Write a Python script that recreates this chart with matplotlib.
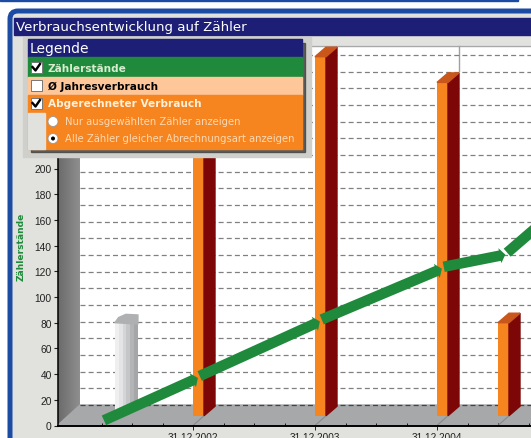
import numpy as np
import matplotlib
matplotlib.use("Agg")
import matplotlib.pyplot as plt
from matplotlib.patches import Rectangle, Polygon, FancyArrowPatch, FancyBboxPatch, Circle

# data
bar_years = [2002.0, 2003.0, 2004.0, 2004.5]
bar_values = [250, 287, 267, 80]
old_year = 2001.36
old_value = 80
line_years = [2001.27, 2002.04, 2003.04, 2004.04, 2004.56, 2004.85]
line_values = [4, 37, 81, 122, 133, 157]
y_ticks = [0, 20, 40, 60, 80, 100, 120, 140, 160, 180, 200]
x_ticks = [2002, 2003, 2004, 2005]
x_labels = ["31.12.2002", "31.12.2003", "31.12.2004", "31.12.2005"]

W, H = 531, 439
PX_YEAR = 122.0   # pixels per year
PX_VAL = 1.285    # pixels per unit
x0_px, y0_px = 193.0, 426.5

NAVY = "#1c1f75"
BLUE = "#1c4ba3"
GREEN = "#1f8a3c"
ORANGE = "#f6841f"
PEACH = "#fdc79a"
DARKRED = "#7d0706"
PANEL = "#e1e1dd"

plt.rcParams["font.family"] = "Liberation Sans"
fig = plt.figure(figsize=(W / 100, H / 100), dpi=100)

# frame / window
bg = fig.add_axes([0, 0, 1, 1], zorder=0)
bg.axis("off")
bg.add_patch(Rectangle((0, 0), W - 13, 2, color=BLUE))
bg.add_patch(FancyBboxPatch((10, 12), W + 40, H, boxstyle="round,pad=0,rounding_size=8", fc=PANEL, ec=BLUE, lw=3.6))
bg.add_patch(Rectangle((14, 19), W, 17, color=NAVY))
bg.text(15.5, 28, "Verbrauchsentwicklung auf Zähler", color="white", fontsize=9.65, family="DejaVu Sans", va="center")

# plot room
bg.add_patch(Rectangle((80, 47), W - 80, 359, color="white"))
bg.plot([80, W], [47, 47], color="#a8a8a8", lw=1)
bg.plot([459, 459], [47, 72], color="#a0a0a0", lw=1)
wall = bg.imshow(np.linspace(0.42, 0.56, 64).reshape(1, -1), cmap="gray", vmin=0, vmax=1,
                 extent=[58, 80, 426, 47], aspect="auto", zorder=1)
wall.set_clip_path(Polygon([(58, 426), (58, 67), (80, 47), (80, 406)], transform=bg.transData))
bg.add_patch(Polygon([(58, 426), (80, 406), (W, 406), (W, 426)], color="#a6a8a9", zorder=1))
bg.set_xlim(0, W)
bg.set_ylim(H, 0)

# chart axes
ax = fig.add_axes([0, 0, 1, 1], zorder=1)
ax.patch.set_alpha(0)
ax.set_yticks(y_ticks)
ax.set_xticks(x_ticks)
ax.set_xticklabels(x_labels)
ax.set_xticks(np.arange(2001.25, 2005, 0.25), minor=True)
# limits after the ticks, set_xticks would widen them
ax.set_xlim(2002 - x0_px / PX_YEAR, 2002 + (W - x0_px) / PX_YEAR)
ax.set_ylim(-(H - y0_px) / PX_VAL, y0_px / PX_VAL)
for s in ["top", "right"]:
    ax.spines[s].set_visible(False)
left_x = 2002 - (x0_px - 58) / PX_YEAR
ax.spines["left"].set_position(("data", left_x))
ax.spines["bottom"].set_position(("data", 0))
ax.spines["left"].set_bounds(0, 215)
ax.spines["bottom"].set_bounds(left_x, ax.get_xlim()[1])
ax.spines["left"].set_linewidth(1.1)
ax.spines["bottom"].set_linewidth(1.4)
ax.tick_params(axis="y", labelsize=7.4, length=3, width=0.8, pad=1.5, colors="#222222")
ax.tick_params(axis="x", labelsize=7.2, length=3, width=0.7, pad=2, colors="#222222")
ax.tick_params(axis="x", which="minor", length=2, width=0.6, direction="in")
fig.text(21 / W, 1 - 247 / H, "Zählerstände", rotation=90, color=GREEN, fontsize=6.6,
         fontweight="bold", ha="center", va="center", family="DejaVu Sans", zorder=3)

# depth offsets in data units
bar_w = 11 / PX_YEAR
dx = 11 / PX_YEAR
dy = 9.5 / PX_VAL
base = 7.6

# back grid, 21 dashed lines
grid_levels = (y0_px - 406) / PX_VAL + np.arange(22) * 16.67 / PX_VAL
back_x = 2002 - (x0_px - 80) / PX_YEAR
for i, g in enumerate(grid_levels):
    ax.plot([back_x, ax.get_xlim()[1]], [g, g], color="#444444" if i == 0 else "#808080",
            lw=0.9, dashes=(4, 2.5), zorder=1.5)

# old value cylinder
old_w = 23 / PX_YEAR
shades = ["#efefef", "#e4e4e6", "#d4d5d7", "#c4c6c8", "#b2b4b6", "#a4a6a8"]
for i, c in enumerate(shades):
    ax.bar(old_year + i * old_w / len(shades), old_value - 11, bottom=11, width=old_w / len(shades),
           align="edge", color=c, zorder=2)
ax.add_patch(Polygon([(old_year, old_value), (old_year + 0.03, old_value + 4), (old_year + 0.09, old_value + 6.5),
                      (old_year + old_w, old_value + 6), (old_year + old_w, old_value - 1)], color="#aeb0b2", zorder=2.1))

# bars
for yr, v in zip(bar_years, bar_values):
    ax.plot([yr, yr + dx], [0, base], color="#8a8a8a", lw=0.8, zorder=1.8)
    ax.bar(yr, v - base, bottom=base, width=bar_w, align="edge", color=ORANGE, zorder=3)
    ax.add_patch(Polygon([(yr + bar_w, base), (yr + bar_w + dx, base + dy),
                          (yr + bar_w + dx, v + dy), (yr + bar_w, v)], color=DARKRED, zorder=3))
    ax.add_patch(Polygon([(yr, v), (yr + dx, v + dy), (yr + bar_w + dx, v + dy), (yr + bar_w, v)],
                         color="#c9561a", zorder=3))

# consumption arrows
for i in range(len(line_years) - 1):
    a = FancyArrowPatch((line_years[i] + (0.015 if i else 0), line_values[i] + (1.5 if i else 0)),
                        (line_years[i + 1], line_values[i + 1]),
                        arrowstyle="simple,head_length=4,head_width=11,tail_width=7.6",
                        mutation_scale=1, shrinkA=0, shrinkB=0, color=GREEN, lw=0, zorder=4)
    ax.add_patch(a)

# legend box
top = fig.add_axes([0, 0, 1, 1], zorder=2)
top.axis("off")
top.patch.set_alpha(0)
top.add_patch(Rectangle((23, 38), 288, 120, color="#cfcfcb"))
top.add_patch(Rectangle((31, 44), 274, 109, color="#3a3a3a", alpha=0.75))
top.add_patch(Rectangle((28, 40), 274, 18, color=NAVY))
top.add_patch(Rectangle((28, 58), 274, 20, color=GREEN))
top.add_patch(Rectangle((28, 78), 274, 18, color=PEACH))
top.add_patch(Rectangle((28, 96), 274, 54, color=ORANGE))
top.add_patch(Rectangle((28, 114), 17, 36, color=PANEL))
top.text(29.5, 49, "Legende", color="white", fontsize=10, family="DejaVu Sans", va="center")
rows = [("Zählerstände", 68.5, "#d8eccf", True), ("Ø Jahresverbrauch", 86.5, "black", False),
        ("Abgerechneter Verbrauch", 104.5, "#fff0d8", True)]
for label, y, col, checked in rows:
    top.add_patch(Rectangle((30.5, y - 5.5), 11, 11, fc="white", ec="#777777", lw=0.7))
    if checked:
        top.plot([32.5, 35.5, 40], [y - 0.5, y + 3, y - 3.5], color="black", lw=1.7)
    top.text(48, y, label, color=col, fontsize=7.6, fontweight="bold", family="DejaVu Sans", va="center")
radios = [("Nur ausgewählten Zähler anzeigen", 122.5, False), ("Alle Zähler gleicher Abrechnungsart anzeigen", 139.5, True)]
for label, y, on in radios:
    top.add_patch(Circle((53, y), 5, fc="white", ec="#999999", lw=0.6))
    if on:
        top.add_patch(Circle((53, y), 2, fc="black"))
    top.text(65, y, label, color="#fcd9b4", fontsize=7.2, family="DejaVu Sans", va="center")
top.set_xlim(0, W)
top.set_ylim(H, 0)

fig.savefig("out.png", dpi=100)
